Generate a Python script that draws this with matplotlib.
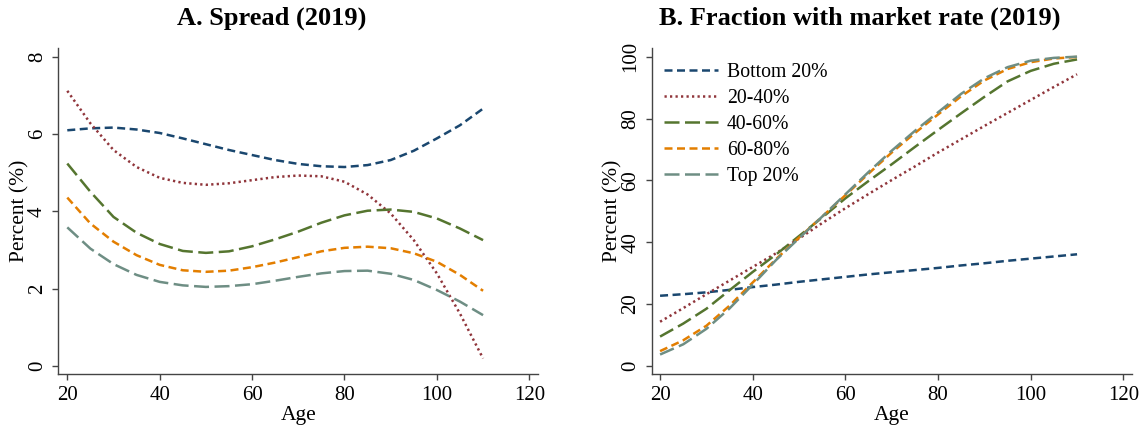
import matplotlib
matplotlib.use("Agg")
import matplotlib.pyplot as plt

plt.rcParams['font.family'] = ['Liberation Serif', 'DejaVu Serif']

ages = [20, 25, 30, 35, 40, 45, 50, 55, 60, 65, 70, 75, 80, 85, 90, 95, 100, 105, 110]
groups = ["Bottom 20%", "20-40%", "40-60%", "60-80%", "Top 20%"]

# Panel A: spread (%)
spread_bottom = [6.10, 6.15, 6.17, 6.12, 6.03, 5.89, 5.74, 5.59, 5.46, 5.33, 5.23, 5.17, 5.15, 5.20, 5.33, 5.57, 5.89, 6.23, 6.66]
spread_20_40 = [7.12, 6.28, 5.59, 5.15, 4.87, 4.74, 4.69, 4.73, 4.81, 4.89, 4.93, 4.91, 4.77, 4.44, 3.95, 3.26, 2.40, 1.36, 0.20]
spread_40_60 = [5.24, 4.51, 3.86, 3.45, 3.16, 2.98, 2.93, 2.97, 3.10, 3.28, 3.48, 3.71, 3.90, 4.02, 4.05, 3.99, 3.82, 3.56, 3.26]
spread_60_80 = [4.36, 3.69, 3.22, 2.87, 2.62, 2.48, 2.44, 2.47, 2.56, 2.68, 2.82, 2.97, 3.06, 3.09, 3.05, 2.92, 2.70, 2.36, 1.95]
spread_top = [3.59, 3.04, 2.64, 2.36, 2.18, 2.09, 2.05, 2.07, 2.12, 2.21, 2.31, 2.40, 2.46, 2.47, 2.39, 2.23, 1.97, 1.67, 1.32]

# Panel B: fraction with market rate (%)
frac_bottom = [22.7, 23.2, 23.8, 24.6, 25.5, 26.3, 27.2, 28.0, 28.8, 29.6, 30.3, 31.0, 31.7, 32.5, 33.2, 34.0, 34.7, 35.4, 36.1]
frac_20_40 = [14.3, 18.7, 23.2, 27.6, 32.0, 36.4, 41.2, 46.2, 51.0, 55.6, 60.1, 64.5, 69.0, 73.3, 77.6, 81.8, 86.0, 90.2, 94.3]
frac_40_60 = [9.5, 13.7, 18.5, 24.5, 30.4, 36.0, 42.0, 48.0, 54.2, 59.8, 65.2, 70.8, 76.3, 81.7, 87.0, 92.0, 95.4, 97.7, 99.1]
frac_60_80 = [4.8, 8.3, 13.0, 19.5, 27.0, 34.5, 41.5, 48.3, 55.2, 62.2, 69.0, 75.3, 81.3, 87.2, 92.3, 96.0, 98.2, 99.4, 99.9]
frac_top = [3.7, 7.0, 12.0, 18.6, 26.3, 34.2, 41.3, 48.3, 55.5, 62.7, 69.6, 76.0, 82.0, 88.0, 93.0, 96.6, 98.7, 99.6, 100.0]

xticks = [20, 40, 60, 80, 100, 120]
yticks_a = [0, 2, 4, 6, 8]
yticks_b = [0, 20, 40, 60, 80, 100]

colors = ["#1a476f", "#90353b", "#55752f", "#e37e00", "#6e8e84"]
dashes = [(3.2, 1.8), (0.9, 1.3), (6.0, 2.2), (3.2, 1.8), (6.0, 2.2)]

spread = [spread_bottom, spread_20_40, spread_40_60, spread_60_80, spread_top]
frac = [frac_bottom, frac_20_40, frac_40_60, frac_60_80, frac_top]

fig = plt.figure(figsize=(11.45, 4.30), dpi=100)
axA = fig.add_axes([0.0509, 0.1295, 0.4192, 0.7582])
axB = fig.add_axes([0.5692, 0.1295, 0.4192, 0.7582])

TICK_FS = 15
LAB_FS = 15.5
LEG_FS = 14.2

def style(ax, yticks, xlim, ylim):
    for s in ['top', 'right']:
        ax.spines[s].set_visible(False)
    for s in ['left', 'bottom']:
        ax.spines[s].set_color('#444444')
        ax.spines[s].set_linewidth(1.0)
    ax.set_xlim(*xlim)
    ax.set_ylim(*ylim)
    ax.set_xticks(xticks)
    ax.set_yticks(yticks)
    ax.tick_params(axis='both', direction='out', length=4.3, width=1.0,
                   color='#444444', labelsize=TICK_FS, pad=4)
    for lab in ax.get_yticklabels():
        lab.set_rotation(90)
        lab.set_va('center')
    ax.set_xlabel("Age", fontsize=LAB_FS, labelpad=1)
    ax.set_ylabel("Percent (%)", fontsize=LAB_FS, labelpad=-1)

for vals, c, d, name in zip(spread, colors, dashes, groups):
    axA.plot(ages, vals, color=c, lw=1.8, dashes=d, label=name)
for vals, c, d, name in zip(frac, colors, dashes, groups):
    axB.plot(ages, vals, color=c, lw=1.8, dashes=d, label=name)

style(axA, yticks_a, (18.05, 121.95), (-0.21, 8.22))
style(axB, yticks_b, (18.2, 121.8), (-2.7, 102.7))

leg = axB.legend(loc='upper left', frameon=False, fontsize=LEG_FS,
                 handlelength=2.75, handletextpad=0.45, labelspacing=0.35,
                 borderaxespad=0.2, bbox_to_anchor=(0.0, 0.99))

fig.text(0.2376, 0.942, "A. Spread (2019)", ha='center', va='baseline',
         fontsize=19, fontweight='bold')
fig.text(0.751, 0.942, "B. Fraction with market rate (2019)", ha='center',
         va='baseline', fontsize=19, fontweight='bold')

fig.savefig("out.png", dpi=100)
